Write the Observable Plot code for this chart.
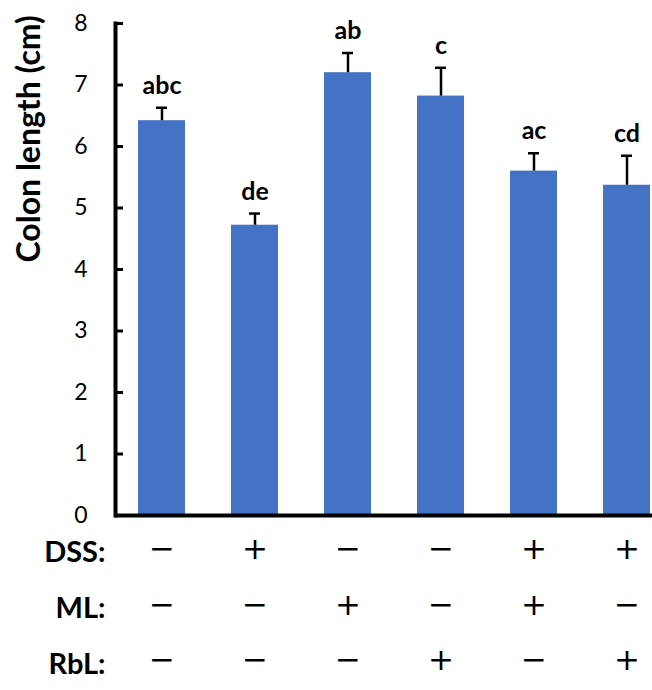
<!DOCTYPE html>
<html>
<head>
<meta charset="utf-8">
<script src="https://cdn.jsdelivr.net/npm/d3@7"></script>
<script src="https://cdn.jsdelivr.net/npm/@observablehq/plot@0.6"></script>
<style>
  html, body { margin: 0; padding: 0; background: #fff; }
  #chart { width: 652px; height: 690px; overflow: hidden; }
</style>
</head>
<body>
<div id="chart"></div>
<script>
// ---- data ----
const groups = ["G1", "G2", "G3", "G4", "G5", "G6"];
const means = [6.42, 4.72, 7.20, 6.82, 5.60, 5.37];
const upper = [6.63, 4.91, 7.52, 7.28, 5.89, 5.85];
const letters = ["abc", "de", "ab", "c", "ac", "cd"];
const dss = ["−", "+", "−", "−", "+", "+"];
const ml  = ["−", "−", "+", "−", "+", "−"];
const rbl = ["−", "−", "−", "+", "−", "+"];
const yTicks = [0, 1, 2, 3, 4, 5, 6, 7, 8];
const yLabel = "Colon length (cm)";
const rowLabels = ["DSS:", "ML:", "RbL:"];

const data = groups.map((g, i) => ({
  group: g, mean: means[i], upper: upper[i], letter: letters[i],
  dss: dss[i], ml: ml[i], rbl: rbl[i]
}));

const font = "Lato, 'Open Sans', sans-serif";
const symFont = "'DejaVu Sans', sans-serif";
const labelDy = [46.5, 102.5, 158.5];
const symDy = [43, 99, 154];
const symCols = ["dss", "ml", "rbl"];

const chart = Plot.plot({
  width: 652,
  height: 690,
  marginLeft: 115,
  marginRight: 0,
  marginTop: 23,
  marginBottom: 175,
  style: { fontFamily: font, background: "#fff", color: "#000", overflow: "hidden" },
  x: { domain: groups, range: [115, 673], paddingInner: 0.5, paddingOuter: 0.24, axis: null },
  y: { domain: [0, 8], label: null },
  marks: [
    Plot.barY(data, { x: "group", y: "mean", fill: "#4472C4" }),
    Plot.ruleX(data, { x: "group", y1: "mean", y2: "upper", stroke: "#000", strokeWidth: 2.5 }),
    Plot.tickY(data, { x: "group", y: "upper", stroke: "#000", strokeWidth: 2.5, insetLeft: 18, insetRight: 18 }),
    Plot.text(data, { x: "group", y: "upper", text: "letter", dy: -22, fontSize: 25, fontWeight: "bold", fill: "#000" }),
    Plot.axisY({ ticks: yTicks, tickSize: 0, tickPadding: 28, fontSize: 23, label: null, textAnchor: "end" }),
    Plot.axisY({ ticks: yTicks, tickSize: -8, strokeWidth: 3, tickFormat: () => "", label: null }),
    Plot.ruleY([0], { stroke: "#000", strokeWidth: 4 }),
    Plot.frame({ anchor: "left", stroke: "#000", strokeWidth: 4 }),
    Plot.text([yLabel], { frameAnchor: "left", rotate: -90, dx: -86, dy: -7, fontSize: 32, fontWeight: "bold", fill: "#000" }),
    ...symCols.map((c, k) =>
      Plot.text(data, { x: "group", text: c, frameAnchor: "bottom", dy: symDy[k], fontSize: 31, fontFamily: symFont, fill: "#000" })),
    ...rowLabels.map((lab, k) =>
      Plot.text([lab], { frameAnchor: "bottom-left", textAnchor: "end", dx: -10, dy: labelDy[k], fontSize: 29, fontWeight: "bold", fill: "#000" }))
  ]
});
document.getElementById("chart").appendChild(chart);
</script>
</body>
</html>
